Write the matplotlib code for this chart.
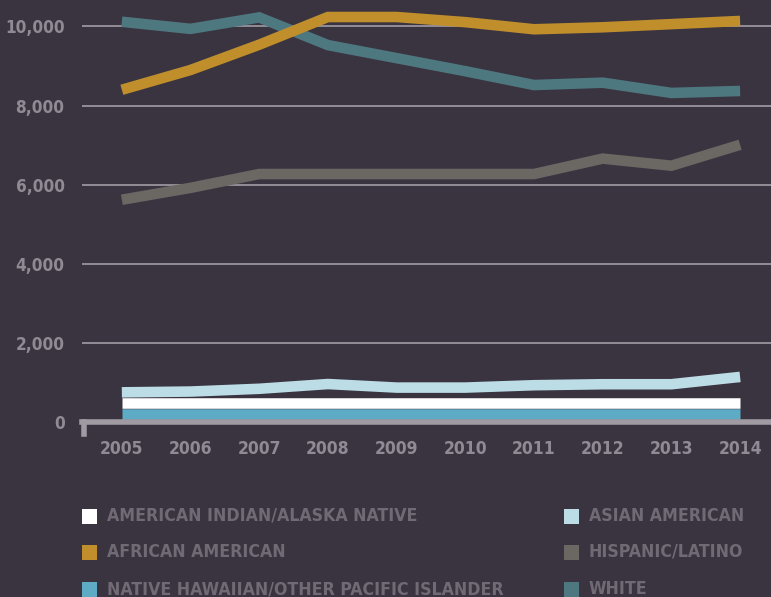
import matplotlib
matplotlib.use("Agg")
import matplotlib.pyplot as plt
from matplotlib.patches import Rectangle

years = [2005, 2006, 2007, 2008, 2009, 2010, 2011, 2012, 2013, 2014]
white = [10120, 9940, 10230, 9530, 9200, 8870, 8520, 8580, 8320, 8370]
african_american = [8400, 8900, 9540, 10240, 10240, 10110, 9930, 9980, 10060, 10140]
hispanic = [5620, 5920, 6270, 6270, 6270, 6270, 6270, 6660, 6480, 7010]
asian = [750, 770, 840, 960, 870, 870, 930, 955, 955, 1140]
am_indian = [473] * 10
nhpi = [195] * 10

y_ticks = [0, 2000, 4000, 6000, 8000, 10000]
y_tick_labels = ["0", "2,000", "4,000", "6,000", "8,000", "10,000"]

legend_labels = [
    "AMERICAN INDIAN/ALASKA NATIVE", "AFRICAN AMERICAN",
    "NATIVE HAWAIIAN/OTHER PACIFIC ISLANDER",
    "ASIAN AMERICAN", "HISPANIC/LATINO", "WHITE",
]

BG = "#3a3441"
C_AIAN = "#ffffff"
C_AFR = "#c08f2c"
C_NHPI = "#5eabc6"
C_ASIAN = "#bcdce6"
C_HISP = "#6b6763"
C_WHITE = "#4e7880"
legend_colors = [C_AIAN, C_AFR, C_NHPI, C_ASIAN, C_HISP, C_WHITE]
TICK_C = "#8f8a93"

plt.rcParams["font.family"] = ["DejaVu Sans"]
plt.rcParams["font.weight"] = "bold"
plt.rcParams["font.stretch"] = "condensed"

W, H = 771, 597
fig = plt.figure(figsize=(W / 100, H / 100), dpi=100, facecolor=BG)
ax = fig.add_axes([82 / W, 1 - 422 / H, 1 - 82 / W, 422 / H], facecolor=BG)

lw = 7.6
for vals, c in [(white, C_WHITE), (african_american, C_AFR), (hispanic, C_HISP),
                (asian, C_ASIAN), (am_indian, C_AIAN), (nhpi, C_NHPI)]:
    ax.plot(years, vals, color=c, lw=lw, solid_capstyle="butt",
            solid_joinstyle="miter", zorder=3)

ax.set_xlim(2004.42, 2014.45)
ax.set_ylim(0, 10670)

for t in y_ticks[1:]:
    ax.axhline(t, color="#9a949e", lw=1.3, zorder=1)

ax.set_yticks(y_ticks, y_tick_labels)
ax.set_xticks(years, [str(y) for y in years])
ax.tick_params(axis="y", length=0, pad=14, labelcolor=TICK_C, labelsize=12.3)
ax.tick_params(axis="x", length=0, pad=13, labelcolor=TICK_C, labelsize=12.5)
for lab in ax.get_xticklabels() + ax.get_yticklabels():
    lab.set_fontweight("bold")

for s in ["top", "right"]:
    ax.spines[s].set_visible(False)
ax.spines["bottom"].set_color("#a09aa3")
ax.spines["bottom"].set_linewidth(4)
ax.spines["bottom"].set_zorder(4)
ax.spines["left"].set_color("#a09aa3")
ax.spines["left"].set_linewidth(4)
ax.spines["left"].set_bounds(-300, 0)
ax.spines["left"].set_position(("data", 2004.42 + 0.03))

# legend, two columns
col_x = [82, 564]
row_y = [516, 552, 589]
for i, (lab, c) in enumerate(zip(legend_labels, legend_colors)):
    x0 = col_x[i // 3]
    y0 = row_y[i % 3]
    fig.add_artist(Rectangle((x0 / W, 1 - (y0 + 7.5) / H), 15 / W, 15 / H,
                             transform=fig.transFigure, color=c, lw=0))
    fig.text((x0 + 25) / W, 1 - y0 / H, lab, color="#6f6a74", fontsize=12.7,
             fontweight="bold", va="center", ha="left")

fig.savefig("out.png", dpi=100, facecolor=BG)
